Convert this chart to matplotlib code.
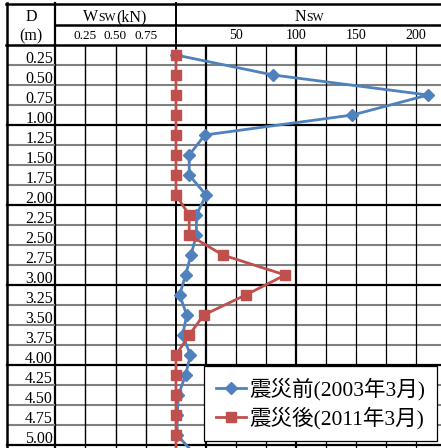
import matplotlib.pyplot as plt
from matplotlib.lines import Line2D

plt.rcParams['font.family'] = ['Liberation Serif', 'Noto Sans CJK JP']

# depth (m), last point lies just below the visible area
depth = [0.25, 0.50, 0.75, 1.00, 1.25, 1.50, 1.75, 2.00, 2.25, 2.50,
         2.75, 3.00, 3.25, 3.50, 3.75, 4.00, 4.25, 4.50, 4.75, 5.00, 5.25]
depth_labels = ["0.25", "0.50", "0.75", "1.00", "1.25", "1.50", "1.75", "2.00",
                "2.25", "2.50", "2.75", "3.00", "3.25", "3.50", "3.75", "4.00",
                "4.25", "4.50", "4.75", "5.00"]
# Nsw before / after the earthquake
nsw_before = [0, 81, 210, 147, 24, 11, 11, 25, 17, 17,
              12.5, 8, 3, 9, 5.5, 12, 8, 2, 1, 1, 16]
nsw_after = [0, 0, 0, 0, 0, 0, 0, 0, 11, 11,
             39, 91, 58, 23, 11, 0, 0, 0, 0, 0, 0]
nsw_ticks = [50, 100, 150, 200]
wsw_ticks = [0.25, 0.50, 0.75]
wsw_labels = ["0.25", "0.50", "0.75"]
label_before = "震災前(2003年3月)"
label_after = "震災後(2011年3月)"

W, H = 441, 448
fig = plt.figure(figsize=(W / 100, H / 100), dpi=100)


def fx(px):
    return px / W


def fy(py):
    return 1 - py / H


ah = (H - 45) / H
ax_n = fig.add_axes([fx(176), 0, fx(441) - fx(176), ah])
ax_w = fig.add_axes([fx(55), 0, fx(176) - fx(55), ah], sharey=ax_n)
ax_d = fig.add_axes([fx(7), 0, fx(55) - fx(7), ah], sharey=ax_n)
ax_n.set_zorder(2)

ax_n.set_ylim(5.1625, 0.125)
ax_n.set_xlim(0, 220.8)
ax_w.set_xlim(0, 1)
ax_d.set_xlim(0, 1)

for ax in (ax_n, ax_w, ax_d):
    ax.set_facecolor('none')
    for s in ax.spines.values():
        s.set_visible(False)
    ax.tick_params(left=False, labelleft=False, bottom=False, labelbottom=False)
    # row separators
    for k in range(20):
        yb = depth[k] + 0.125
        if k % 4 == 3:
            ax.axhline(yb, color='black', lw=1.6, zorder=1, clip_on=False)
        else:
            ax.axhline(yb, color='#808080', lw=1.5, zorder=0.8)

# vertical grid lines
for v in range(25, 226, 25):
    thick = v in (25, 100)
    ax_n.axvline(v, color='black', lw=1.6 if thick else 0.9, zorder=0.9)
ax_n.axvline(0, color='black', lw=1.4, zorder=0.9, clip_on=False)
for v in wsw_ticks:
    ax_w.axvline(v, color='black', lw=1.0, zorder=0.9)
ax_w.axvline(0, color='black', lw=1.6, zorder=0.9, clip_on=False)
ax_d.axvline(0, color='black', lw=1.8, zorder=0.9, clip_on=False)

# top tick labels
ax_n.xaxis.tick_top()
ax_n.set_xticks(nsw_ticks)
ax_n.tick_params(axis='x', top=True, labeltop=True, length=0, pad=2.5, labelsize=10)
ax_w.xaxis.tick_top()
ax_w.set_xticks(wsw_ticks, wsw_labels)
ax_w.tick_params(axis='x', top=True, labeltop=True, length=0, pad=2.5, labelsize=9.5)

# depth labels
for d, lab in zip(depth, depth_labels):
    ax_d.text(0.96, d + 0.096, lab, ha='right', va='baseline', fontsize=11.5)

# data
ax_n.plot(nsw_before, depth, color='#4F81BD', lw=2.0, marker='D', ms=6,
          label=label_before, zorder=3, clip_on=False)
ax_n.plot(nsw_after, depth, color='#C0504D', lw=2.0, marker='s', ms=7.5,
          label=label_after, zorder=4, clip_on=False)

leg = ax_n.legend(loc='lower right', bbox_to_anchor=(0.985, 0.017), fontsize=15.5,
                  frameon=True, fancybox=False, framealpha=1, edgecolor='black',
                  handlelength=1.4, handletextpad=0.15, borderpad=0.55,
                  labelspacing=0.3, borderaxespad=0)
leg.get_frame().set_linewidth(0.9)
leg.set_zorder(10)

# header grid
def hline(y, x0, x1, lw=1.8):
    fig.add_artist(Line2D([fx(x0), fx(x1)], [fy(y), fy(y)], color='black', lw=lw))


def vline(x, y0, y1, lw=1.6):
    fig.add_artist(Line2D([fx(x), fx(x)], [fy(y0), fy(y1)], color='black', lw=lw))


hline(4, 6, 441)
hline(25, 55, 441)
hline(45, 6, 441)
vline(7, 3, 45, 1.8)
vline(55, 3, 45)
vline(176, 3, 45, 1.4)

# header texts
fig.text(fx(31), fy(21), "D", ha='center', va='baseline', fontsize=11.5)
fig.text(fx(31), fy(40.5), "(m)", ha='center', va='baseline', fontsize=11.5)

renderer = fig.canvas.get_renderer()


def compound(cx, base_y, pieces):
    texts = []
    widths = []
    for s, size in pieces:
        t = fig.text(0, fy(base_y), s, ha='left', va='baseline', fontsize=size)
        widths.append(t.get_window_extent(renderer).width)
        texts.append(t)
    x = cx - sum(widths) / 2
    for t, w in zip(texts, widths):
        t.set_x(fx(x))
        x += w


compound(115, 21, [("W", 11.5), ("SW", 8.5), ("(kN)", 11.5)])
compound(309, 21, [("N", 11.5), ("SW", 8.5)])

fig.savefig("out.png", dpi=100)
